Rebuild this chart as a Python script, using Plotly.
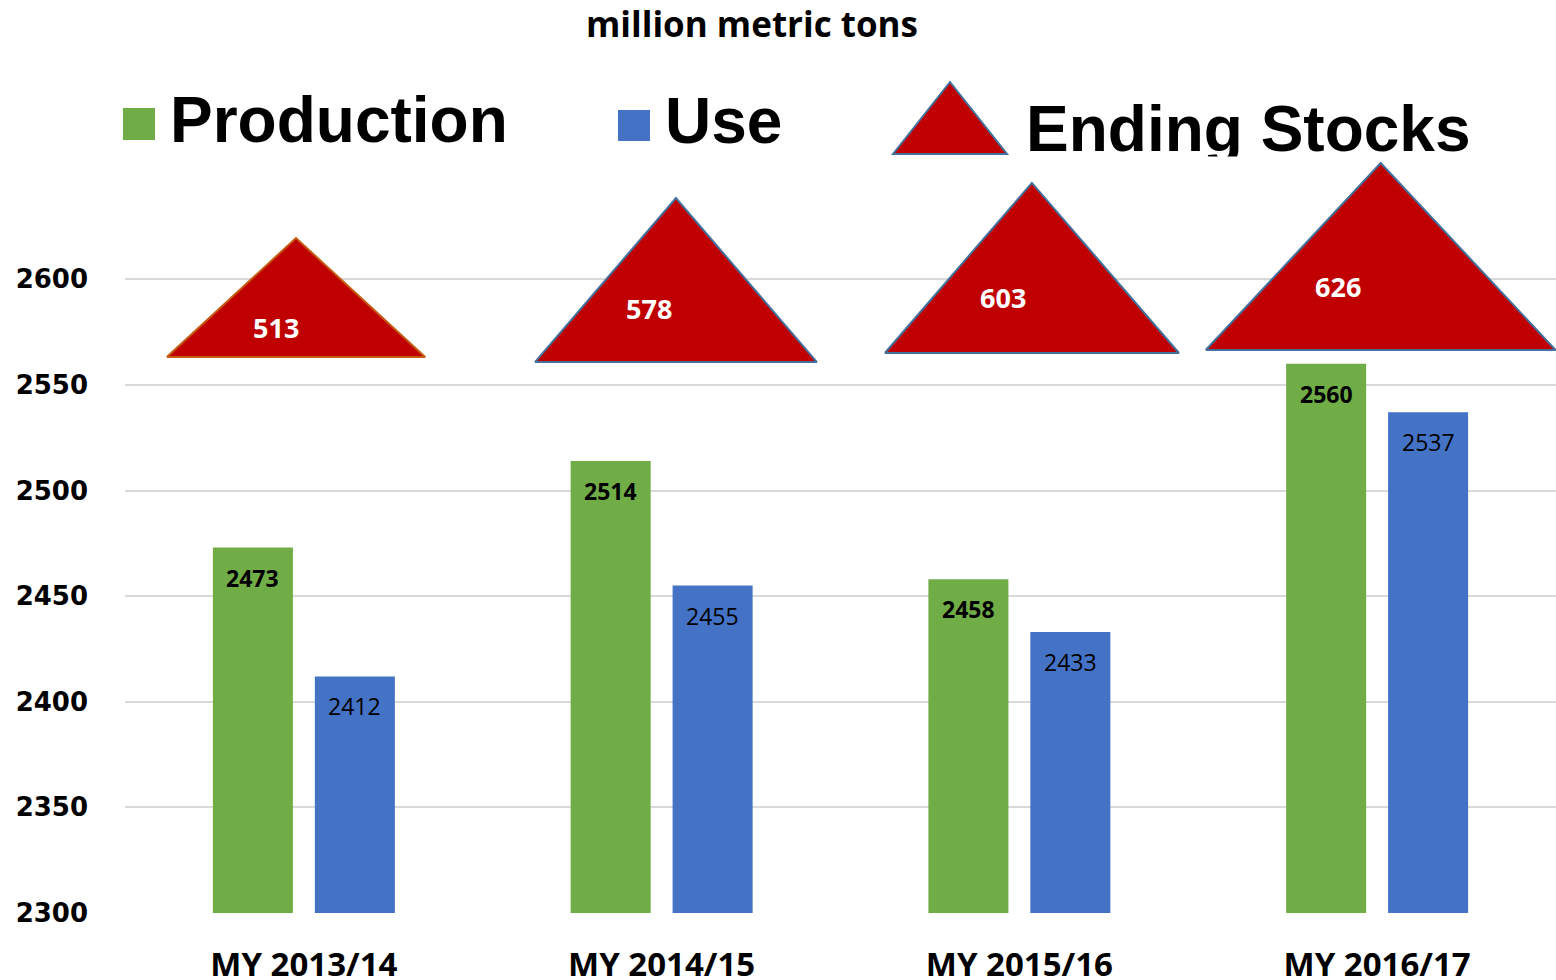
import plotly.graph_objects as go

# ---------------- data ----------------
categories = ["MY 2013/14", "MY 2014/15", "MY 2015/16", "MY 2016/17"]
production = [2473, 2514, 2458, 2560]
use = [2412, 2455, 2433, 2537]
ending_stocks = [513, 578, 603, 626]
y_ticks = [2300, 2350, 2400, 2450, 2500, 2550, 2600]

# ---------------- styles ----------------
GREEN = "#70AD47"
BLUE = "#4472C4"
RED = "#C00000"
TRI_LINE = ["#C55A11", "#41719C", "#41719C", "#41719C"]
# pictogram sizes of the ending-stock triangles (category units / value units)
TRI_HALF_W = [0.361, 0.394, 0.411, 0.489]
TRI_HEIGHT = [56.3, 77.6, 80.5, 88.5]
TRI_BASE = [2563.2, 2560.8, 2565.1, 2566.5]
TRI_DX = [-0.022, 0.040, 0.035, 0.010]
TRI_LABEL_SHIFT = [(6, -7), (1, 3), (1, 3), (-8, 6)]  # pixel nudges (x, y)

W, H = 1556, 980
L, R, T, B = 125, 1556, 68, 913
BARGAP = 0.43
BARGROUPGAP = 0.215
OFF = (1 - BARGAP) / 4

def px_x(px):
    return (px - L) / (R - L)

def px_y(py):
    return (B - py) / (B - T)

xs = list(range(len(categories)))

fig = go.Figure()
fig.add_trace(go.Bar(x=xs, y=production, name="Production", marker_color=GREEN,
                     marker_line_width=0, showlegend=False))
fig.add_trace(go.Bar(x=xs, y=use, name="Use", marker_color=BLUE,
                     marker_line_width=0, showlegend=False))

annotations = []
for i, (p, u) in enumerate(zip(production, use)):
    annotations.append(dict(x=i - OFF, y=p, text=str(p), showarrow=False, yshift=-30,
                            font=dict(family="Open Sans", size=23, color="black", weight="bold")))
    annotations.append(dict(x=i + OFF, y=u, text=str(u), showarrow=False, yshift=-30,
                            font=dict(family="Open Sans", size=23, color="black")))

# ending stocks triangles
for i, v in enumerate(ending_stocks):
    cx = i + TRI_DX[i]
    hw = TRI_HALF_W[i]
    b = TRI_BASE[i]
    h = TRI_HEIGHT[i]
    fig.add_trace(go.Scatter(
        x=[cx - hw, cx, cx + hw, cx - hw], y=[b, b + h, b, b],
        mode="lines", fill="toself", fillcolor=RED,
        line=dict(color=TRI_LINE[i], width=2),
        showlegend=False, hoverinfo="skip", cliponaxis=False))
    sx, sy = TRI_LABEL_SHIFT[i]
    annotations.append(dict(x=cx - 0.2 * hw, y=b + 0.31 * h, text=str(v), showarrow=False,
                            xshift=sx, yshift=sy,
                            font=dict(family="Open Sans", size=27, color="white", weight="bold")))

# title
annotations.append(dict(xref="paper", yref="paper", x=px_x(752), y=px_y(24),
                        xanchor="center", yanchor="middle",
                        text="million metric tons", showarrow=False,
                        font=dict(family="Open Sans", size=35, color="black", weight="bold")))
# legend texts
leg_font = dict(family="Liberation Sans", size=64, color="black", weight="bold")
annotations.append(dict(xref="paper", yref="paper", x=px_x(168), y=px_y(120), xanchor="left",
                        yanchor="middle", text="Production", showarrow=False, font=leg_font))
annotations.append(dict(xref="paper", yref="paper", x=px_x(663), y=px_y(121), xanchor="left",
                        yanchor="middle", text="Use", showarrow=False, font=leg_font))
annotations.append(dict(xref="paper", yref="paper", x=px_x(1024), y=px_y(129), xanchor="left",
                        yanchor="middle", text="Ending Stocks", showarrow=False, font=leg_font))
# the legend text box is clipped just below the baseline in the original
annotations.append(dict(xref="paper", yref="paper", x=px_x(1190), y=px_y(156), xanchor="left",
                        yanchor="top", text=" ", showarrow=False, width=60, height=14,
                        bgcolor="white", font=dict(size=4)))

shapes = [
    dict(type="rect", xref="paper", yref="paper", x0=px_x(123), x1=px_x(155),
         y0=px_y(140), y1=px_y(108), fillcolor=GREEN, line_width=0),
    dict(type="rect", xref="paper", yref="paper", x0=px_x(618), x1=px_x(650),
         y0=px_y(141), y1=px_y(110), fillcolor=BLUE, line_width=0),
    dict(type="path", xref="paper", yref="paper",
         path=f"M {px_x(893)} {px_y(154)} L {px_x(950)} {px_y(82)} L {px_x(1007)} {px_y(154)} Z",
         fillcolor=RED, line=dict(color="#41719C", width=2)),
]

fig.update_layout(
    width=W, height=H,
    margin=dict(l=L, r=W - R, t=T, b=H - B, pad=0, autoexpand=False),
    paper_bgcolor="white", plot_bgcolor="white",
    barmode="group", bargap=BARGAP, bargroupgap=BARGROUPGAP,
    annotations=annotations, shapes=shapes, showlegend=False,
    xaxis=dict(range=[-0.5, len(categories) - 0.5], tickvals=xs, ticktext=categories,
               showgrid=False, zeroline=False, showline=False, ticks="",
               automargin=False, ticklabelstandoff=29,
               tickfont=dict(family="Open Sans", size=33, color="black", weight="bold")),
    yaxis=dict(range=[2300, 2700], tickvals=y_ticks, showgrid=True, gridcolor="#D9D9D9",
               gridwidth=2, zeroline=False, showline=False, ticks="",
               automargin=False, ticklabelstandoff=36,
               tickfont=dict(family="DejaVu Sans", size=26, color="black", weight="bold")),
)

fig.write_html("out.html", config={"displayModeBar": False},
               post_script="document.body.style.margin='0px';")
